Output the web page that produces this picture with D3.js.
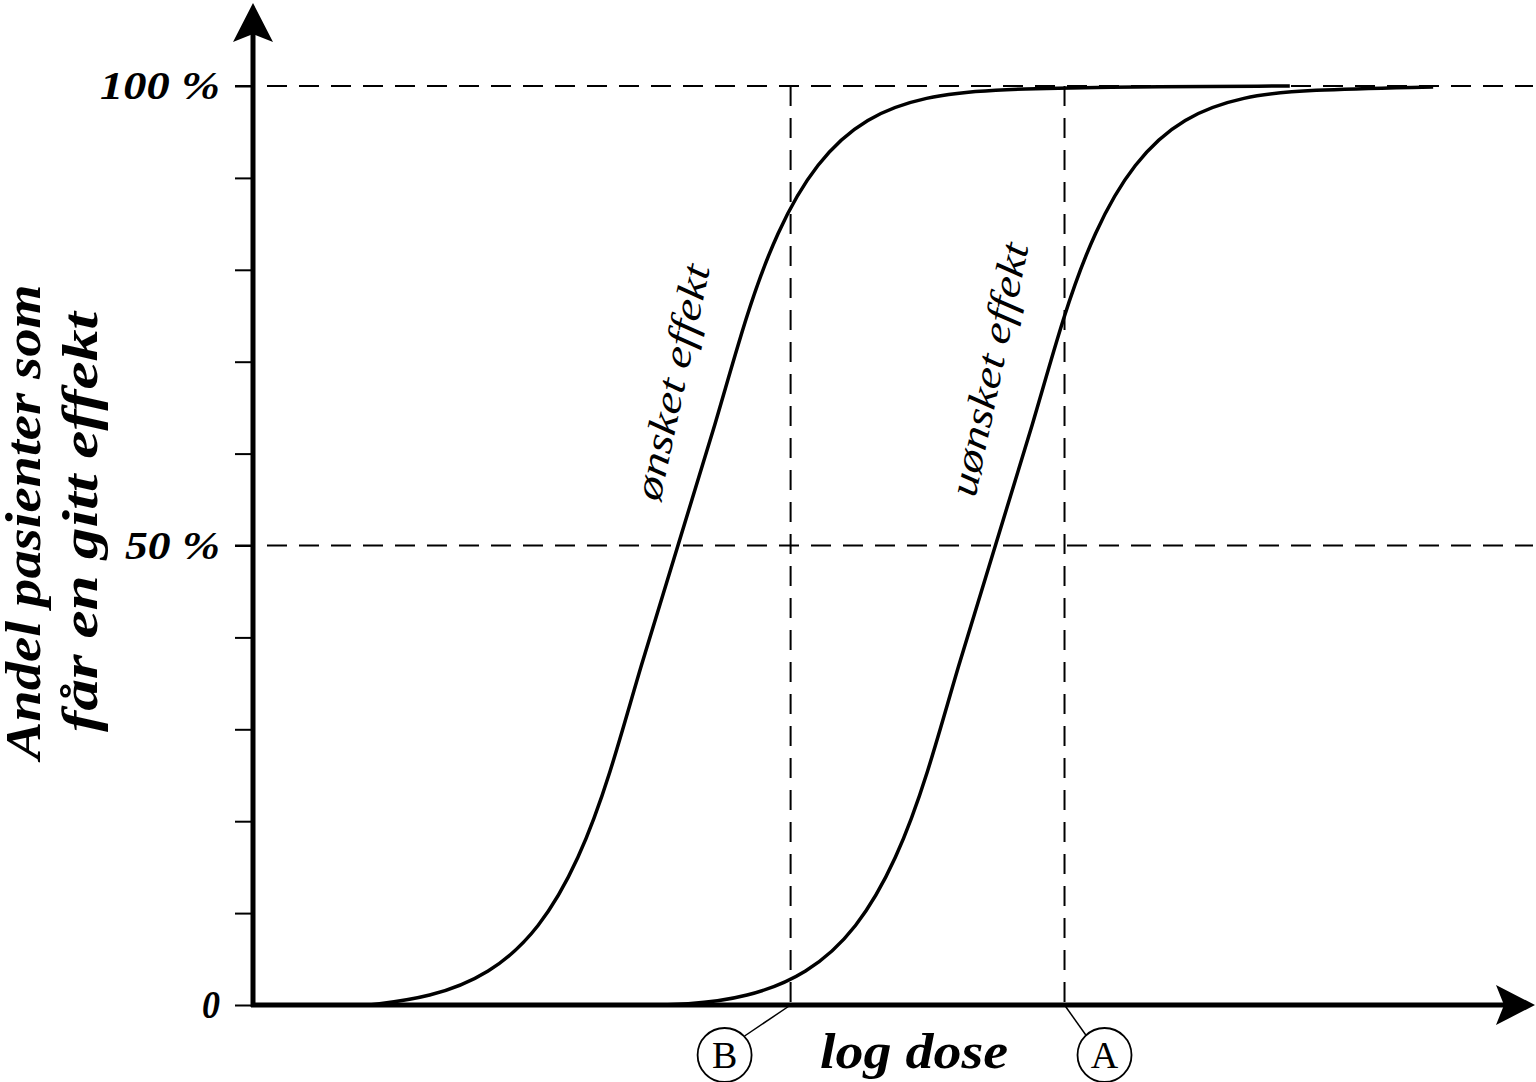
<!DOCTYPE html>
<html><head><meta charset="utf-8">
<script src="https://cdn.jsdelivr.net/npm/d3@7"></script>
<style>body{margin:0;background:#fff}</style></head>
<body><svg id="c" width="1536" height="1082"></svg>
<script>
// Data (dose in arbitrary log units 0..100, response in %)
const desiredDose = [5.0,9.1,13.8,18.5,22.4,25.5,27.9,30.2,33.2,36.2,38.5,40.9,44.0,47.9,52.6,57.4,66.0,81.0];
const desiredPct  = [0,0,0.8,3.3,8.2,15.8,25.0,36.5,50,63.5,75.0,84.2,91.8,96.7,98.9,99.6,99.9,100];
const undesiredDose = [29.8,33.9,38.6,43.3,47.2,50.3,52.7,55.0,58.0,61.0,63.3,65.7,68.8,72.7,77.4,82.2,92.2];
const undesiredPct  = [0,0,0.8,3.3,8.2,15.8,25.0,36.5,50,63.5,75.0,84.2,91.8,96.7,98.9,99.6,99.9];
const yTicks = [0,10,20,30,40,50,60,70,80,90,100];
const yLabels = [[0,"0"],[50,"50 %"],[100,"100 %"]];
const refLines = [50,100];
const markers = [{dose:42.0,label:"B"},{dose:63.4,label:"A"}];

const svg = d3.select("#c");
const x = d3.scaleLinear().domain([0,100]).range([253,1533]);
const y = d3.scaleLinear().domain([0,100]).range([1005,86]);
const font = "'Liberation Serif','Times New Roman',serif";

refLines.forEach(v=>svg.append("line").attr("x1",235).attr("x2",1533).attr("y1",y(v)).attr("y2",y(v))
  .attr("stroke","#000").attr("stroke-width",2).attr("stroke-dasharray","20,12"));
markers.forEach(m=>svg.append("line").attr("x1",x(m.dose)).attr("x2",x(m.dose)).attr("y1",y(100)).attr("y2",y(0))
  .attr("stroke","#000").attr("stroke-width",2).attr("stroke-dasharray","20,12"));

const line = d3.line().x(d=>x(d[0])).y(d=>y(d[1])).curve(d3.curveBasis);
[[desiredDose,desiredPct],[undesiredDose,undesiredPct]].forEach(([d,p])=>
  svg.append("path").attr("d",line(d.map((v,i)=>[v,p[i]]).filter(q=>q[0]>=9))).attr("fill","none").attr("stroke","#000").attr("stroke-width",3.5));

const yAxis = d3.axisLeft(y).tickValues(yTicks).tickSize(18).tickFormat("");
const g = svg.append("g").attr("transform","translate(253,0)").call(yAxis);
g.select(".domain").remove();
g.selectAll("line").attr("stroke-width",2);
svg.append("line").attr("x1",253).attr("x2",253).attr("y1",1007).attr("y2",30).attr("stroke","#000").attr("stroke-width",5);
svg.append("line").attr("x1",251).attr("x2",1510).attr("y1",1005).attr("y2",1005).attr("stroke","#000").attr("stroke-width",5);
svg.append("path").attr("d","M253,3 L233,42 L253,34 L273,42 Z").attr("fill","#000");
svg.append("path").attr("d","M1535,1005 L1496,985 L1504,1005 L1496,1025 Z").attr("fill","#000");

const lens = {"0":18,"50 %":95,"100 %":120};
yLabels.forEach(([v,t])=>svg.append("text").attr("x",220).attr("y",y(v)+13).attr("text-anchor","end")
  .attr("font-family",font).attr("font-weight","bold").attr("font-style","italic").attr("font-size",40)
  .attr("textLength",lens[t]).attr("lengthAdjust","spacingAndGlyphs").text(t));

const yt = svg.append("text").attr("transform","translate(0,522) rotate(-90)").attr("text-anchor","middle")
  .attr("font-family",font).attr("font-weight","bold").attr("font-style","italic").attr("font-size",50);
yt.append("tspan").attr("x",0).attr("y",40).attr("textLength",475).attr("lengthAdjust","spacingAndGlyphs").text("Andel pasienter som");
yt.append("tspan").attr("x",0).attr("y",97).attr("textLength",420).attr("lengthAdjust","spacingAndGlyphs").text("får en gitt effekt");

svg.append("text").attr("x",914).attr("y",1068).attr("text-anchor","middle").attr("font-family",font)
  .attr("font-weight","bold").attr("font-style","italic").attr("font-size",50)
  .attr("textLength",188).attr("lengthAdjust","spacingAndGlyphs").text("log dose");

markers.forEach(m=>{
  const cx = m.label==="B" ? x(m.dose)-66 : x(m.dose)+40, cy=1055;
  svg.append("line").attr("x1",x(m.dose)).attr("y1",1005).attr("x2",m.label==="B"?cx+20:cx-18).attr("y2",cy-19).attr("stroke","#000").attr("stroke-width",1.5);
  svg.append("circle").attr("cx",cx).attr("cy",cy).attr("r",27).attr("fill","#fff").attr("stroke","#000").attr("stroke-width",1.8);
  svg.append("text").attr("x",cx).attr("y",cy+13).attr("text-anchor","middle").attr("font-family",font).attr("font-size",38).text(m.label);
});

svg.append("text").attr("transform","translate(685,385) rotate(-78)").attr("text-anchor","middle").attr("font-family",font)
  .attr("font-style","italic").attr("font-size",40).attr("textLength",240).attr("lengthAdjust","spacingAndGlyphs").text("ønsket effekt");
svg.append("text").attr("transform","translate(1002,372) rotate(-78)").attr("text-anchor","middle").attr("font-family",font)
  .attr("font-style","italic").attr("font-size",40).attr("textLength",258).attr("lengthAdjust","spacingAndGlyphs").text("uønsket effekt");
</script></body></html>
